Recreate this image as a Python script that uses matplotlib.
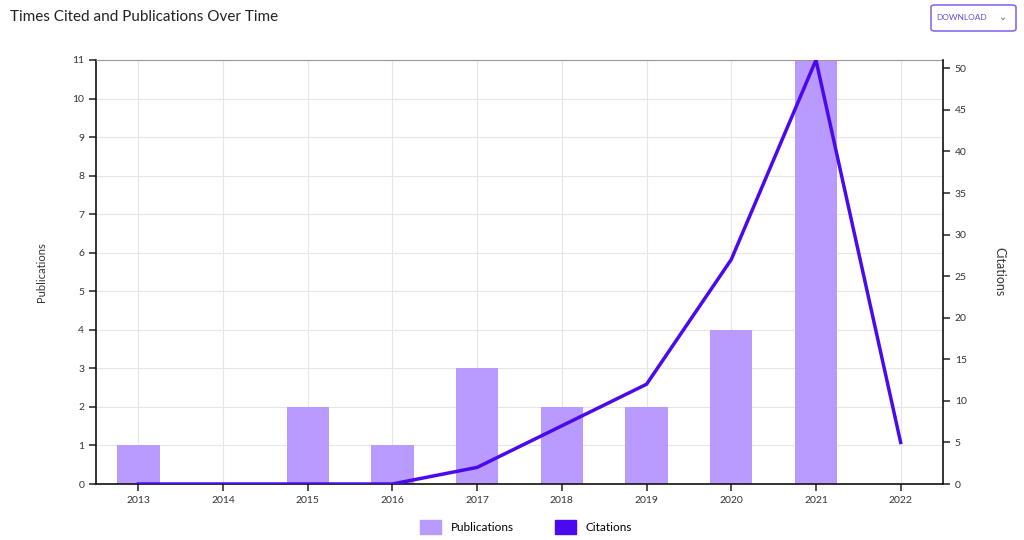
import matplotlib
matplotlib.use("Agg")
import numpy as np
import matplotlib.pyplot as plt
from matplotlib.patches import FancyBboxPatch, Patch

plt.rcParams['font.family'] = ['Lato', 'DejaVu Sans']

years = ['2013', '2014', '2015', '2016', '2017', '2018', '2019', '2020', '2021', '2022']
publications = [1, 0, 2, 1, 3, 2, 2, 4, 11, 0]
citations = [0, 0, 0, 0, 2, 7, 12, 27, 51, 5]

bar_color = '#B99AFF'
line_color = '#4B0AEE'

fig = plt.figure(figsize=(10.24, 5.4), dpi=100)
ax = fig.add_axes([96/1024, 56/540, 847/1024, 424/540])
x = np.arange(len(years))

ax.bar(x, publications, width=0.5, color=bar_color, zorder=2)
ax.set_xlim(-0.5, len(years) - 0.5)
ax.set_ylim(0, 11)
ax.set_yticks(range(0, 12))
ax.set_xticks(x)
ax.set_xticklabels(years)
ax.grid(True, color='#E6E6E6', lw=0.8, zorder=0)
ax.set_axisbelow(True)
for s in ['left', 'bottom']:
    ax.spines[s].set_color('#111111')
    ax.spines[s].set_linewidth(1.2)
ax.spines['top'].set_color('#999999')
ax.spines['right'].set_visible(False)
ax.tick_params(labelsize=7.5, colors='#333333', length=5, width=1.2)
ax.set_ylabel('Publications', fontsize=8, color='#333333', labelpad=18)

ax2 = ax.twinx()
ax2.plot(x, citations, color=line_color, lw=2.5, zorder=3)
ax2.set_ylim(0, 51)
ax2.set_yticks(range(0, 51, 5))
for s in ['left', 'bottom', 'top']:
    ax2.spines[s].set_visible(False)
ax2.spines['right'].set_color('#111111')
ax2.spines['right'].set_linewidth(1.2)
ax2.tick_params(labelsize=7.5, colors='#333333', length=5, width=1.2)
ax2.set_ylabel('Citations', fontsize=9, color='#333333', rotation=-90, labelpad=28)

fig.text(10/1024, 1 - 17/540, 'Times Cited and Publications Over Time',
         fontsize=11, color='#222222', va='center', ha='left')

# download button
btn = FancyBboxPatch((931/1024, 1 - 31/540), 85/1024, 26/540,
                     boxstyle='round,pad=0,rounding_size=0.004',
                     transform=fig.transFigure, fill=False,
                     edgecolor='#8A6BF0', lw=1.2)
fig.patches.append(btn)
fig.text(962/1024, 1 - 17/540, 'DOWNLOAD', fontsize=6, color='#6A4FD8',
         ha='center', va='center')
fig.text(1003/1024, 1 - 17/540, '\u2304', fontsize=7, color='#666666',
         ha='center', va='center', family=['DejaVu Sans'])

handles = [Patch(color=bar_color, label='Publications'),
           Patch(color=line_color, label='Citations')]
fig.legend(handles=handles, loc='center', bbox_to_anchor=(526/1024, 1 - 527/540),
           ncol=2, frameon=False, fontsize=8.5, handlelength=1.8, handleheight=1.4,
           columnspacing=3.5)

fig.savefig('out.png', dpi=100)
